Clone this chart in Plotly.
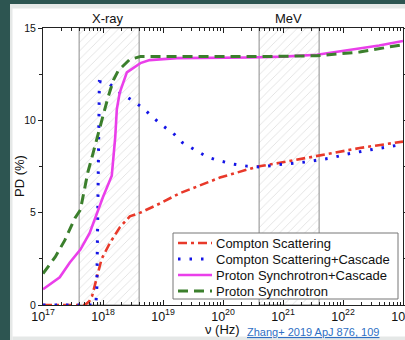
import plotly.graph_objects as go

# ---- data ----
cs_nu = [1.0e17, 5.0e17, 5.9e17, 6.6e17, 7.9e17, 8.9e17, 9.5e17, 1.3e18, 1.9e18, 2.8e18,
         4.2e18, 8.9e18, 1.9e19, 8.9e19, 3.8e20, 8.9e20, 4.2e21, 1.9e22, 1.0e23]
cs_pd = [0.0, 0.0, 0.2, 0.5, 1.5, 2.2, 2.5, 3.35, 4.2, 4.8,
         5.0, 5.5, 6.05, 6.9, 7.5, 7.7, 8.1, 8.5, 8.85]

csc_nu = [1.0e17, 7.6e17, 7.9e17, 8.3e17, 8.7e17, 1.26e18, 1.9e18, 3.0e18, 4.5e18, 6.6e18,
          9.5e18, 1.48e19, 2.1e19, 3.4e19, 5.6e19, 8.9e19, 1.5e20, 2.5e20, 4.2e20, 8.3e20,
          2.3e21, 6.0e21, 1.3e22, 2.8e22, 5.0e22, 1.0e23]
csc_pd = [0.0, 0.0, 1.0, 6.0, 12.1, 12.0, 11.5, 11.1, 10.7, 10.2,
          9.75, 9.3, 8.8, 8.4, 8.0, 7.8, 7.63, 7.52, 7.47, 7.6,
          7.74, 7.95, 8.2, 8.4, 8.55, 8.7]

psc_nu = [1.0e17, 1.9e17, 2.8e17, 4.2e17, 6.0e17, 7.9e17, 1.0e18, 1.4e18, 1.6e18, 1.7e18,
          1.9e18, 2.5e18, 4.2e18, 6.0e18, 1.7e19, 2.8e20, 1.0e21, 3.7e21, 1.3e22, 4.0e22, 1.0e23]
psc_pd = [0.85, 1.5, 2.3, 3.0, 3.9, 5.0, 5.85, 7.0, 9.1, 10.6,
          11.5, 12.6, 13.1, 13.26, 13.37, 13.4, 13.45, 13.55, 13.8, 14.05, 14.3]

ps_nu = [1.0e17, 1.6e17, 2.3e17, 3.4e17, 4.2e17, 5.6e17, 6.8e17, 8.3e17, 1.2e18, 1.5e18,
         1.8e18, 2.8e18, 4.2e18, 4.2e19, 4.2e20, 3.7e21, 1.9e22, 1.0e23]
ps_pd = [1.7, 2.6, 3.5, 4.7, 5.15, 7.2, 8.2, 9.3, 11.2, 12.2,
         12.7, 13.3, 13.45, 13.45, 13.45, 13.5, 13.7, 14.1]

series_names = ["Compton Scattering", "Compton Scattering+Cascade",
                "Proton Synchrotron+Cascade", "Proton Synchrotron"]

xray_band = [4.0e17, 4.0e18]
mev_band = [4.0e20, 4.0e21]
band_labels = ["X-ray", "MeV"]

x_exp_range = [16.9999, 23.0001]
y_range = [0, 15]

# ---- pixel layout helpers ----
W, H = 405, 340
L, R, T, B = 43, 2, 28, 35
PW = W - L - R
PH = H - T - B


def px(x):
    return (x - L) / PW


def py(y):
    return (H - B - y) / PH


styles = [
    dict(color="#e8392a", width=2.6, dash="9px,4px,3px,4px"),
    dict(color="#1414e6", width=3, dash="2.5px,9px"),
    dict(color="#ea3fea", width=2.6),
    dict(color="#3b7f2c", width=3, dash="10px,6px"),
]

fig = go.Figure()

for band in (xray_band, mev_band):
    fig.add_trace(go.Scatter(
        x=[band[0], band[1], band[1], band[0], band[0]],
        y=[y_range[0], y_range[0], y_range[1], y_range[1], y_range[0]],
        mode="lines", fill="toself",
        fillcolor="rgba(0,0,0,0)",
        fillpattern=dict(shape="/", fgcolor="#c4c4c4", bgcolor="rgba(255,255,255,0)",
                         size=6, solidity=0.15),
        line=dict(color="#8c8c8c", width=1),
        showlegend=False, hoverinfo="skip"))

for nu, pd_, name, st in zip((cs_nu, csc_nu, psc_nu, ps_nu), (cs_pd, csc_pd, psc_pd, ps_pd),
                             series_names, styles):
    fig.add_trace(go.Scatter(x=nu, y=pd_, mode="lines", name=name, line=st,
                             showlegend=False))

font_family = "Liberation Sans, Arial, sans-serif"

fig.update_layout(
    width=W, height=H,
    margin=dict(l=L, r=R, t=T, b=B, pad=0, autoexpand=False),
    paper_bgcolor="white", plot_bgcolor="white",
    font=dict(family=font_family, color="#111111", size=11),
    showlegend=False,
    xaxis=dict(type="log", range=x_exp_range, tickmode="linear", tick0=17, dtick=1,
               exponentformat="power", ticklabeloverflow="allow",
               showgrid=False, zeroline=False, automargin=False,
               showline=True, linecolor="#222222", linewidth=1, mirror="ticks",
               ticks="inside", ticklen=5, tickcolor="#222222",
               tickfont=dict(size=10),
               minor=dict(ticks="inside", ticklen=3, tickcolor="#222222", showgrid=False)),
    yaxis=dict(range=y_range, dtick=5, showgrid=False, zeroline=False, automargin=False,
               showline=True, linecolor="#222222", linewidth=1, mirror="ticks",
               ticks="outside", ticklen=4, tickcolor="#222222",
               tickfont=dict(size=10.5),
               minor=dict(dtick=2.5, ticks="outside", ticklen=3, tickcolor="#222222",
                          showgrid=False)),
)

annotations = [
    dict(text="PD (%)", x=px(19), y=py(176), textangle=-90, font=dict(size=13)),
    dict(text="\u03bd (Hz)", x=px(222), y=py(329), font=dict(size=13)),
    dict(text="<u>Zhang+ 2019 ApJ 876, 109</u>", x=px(245), y=py(332), xanchor="left",
         font=dict(size=11, color="#2f6fc4")),
    dict(text=band_labels[0], x=px(108), y=py(19), font=dict(size=13)),
    dict(text=band_labels[1], x=px(288), y=py(19), font=dict(size=13)),
]

# legend box (drawn in pixel-aligned paper coordinates)
leg_x0, leg_x1, leg_y0, leg_y1 = 173, 398, 233, 299
row_y = [243, 259, 275, 291]
fig.add_shape(type="rect", xref="paper", yref="paper",
              x0=px(leg_x0), x1=px(leg_x1), y0=py(leg_y1), y1=py(leg_y0),
              fillcolor="white", line=dict(color="#777777", width=1), layer="above")
for ry, name, st in zip(row_y, series_names, styles):
    fig.add_shape(type="line", xref="paper", yref="paper",
                  x0=px(178), x1=px(212), y0=py(ry), y1=py(ry),
                  line=dict(color=st["color"], width=st["width"], dash=st.get("dash", "solid")),
                  layer="above")
    annotations.append(dict(text=name, x=px(214), y=py(ry), xanchor="left",
                            font=dict(size=13)))

for a in annotations:
    a.setdefault("xanchor", "center")
    fig.add_annotation(xref="paper", yref="paper", showarrow=False, yanchor="middle", **a)

# slide frame around the screenshot
teal = "#2d5551"
frame = "#e5e8e7"
shapes = [
    dict(x0=px(0), x1=px(10), y0=py(H), y1=py(0), fillcolor=teal),
    dict(x0=px(0), x1=px(W), y0=py(4), y1=py(0), fillcolor=teal),
    dict(x0=px(10), x1=px(12.5), y0=py(H), y1=py(4), fillcolor=frame),
    dict(x0=px(10), x1=px(W), y0=py(8.5), y1=py(4), fillcolor=frame),
    dict(x0=px(12.5), x1=px(W), y0=py(H), y1=py(336.5), fillcolor=frame),
]
for s in shapes:
    fig.add_shape(type="rect", xref="paper", yref="paper", line=dict(width=0),
                  layer="above", **s)

fig.write_html("out.html", config={"displayModeBar": False},
               post_script="document.body.style.margin='0';document.body.style.padding='0';")
